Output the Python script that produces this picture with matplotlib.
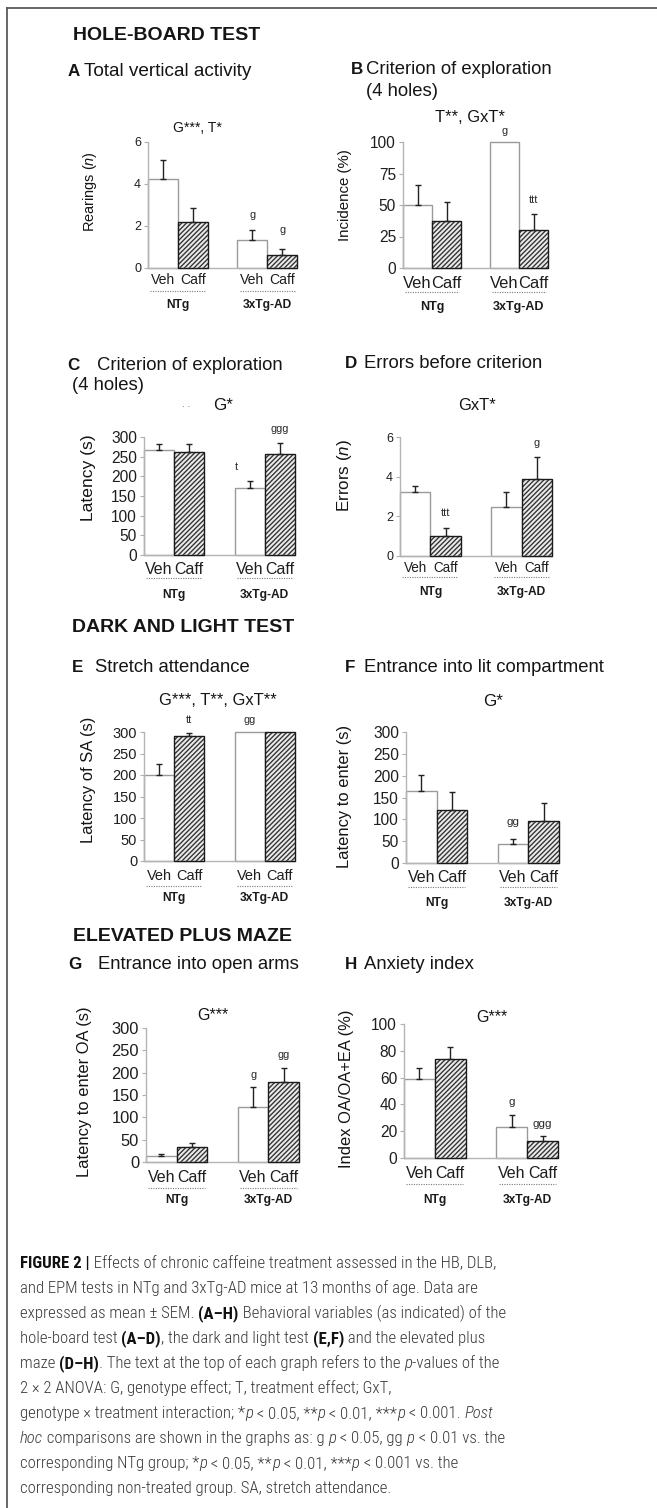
import matplotlib
matplotlib.use("Agg")
import matplotlib.pyplot as plt
from matplotlib.lines import Line2D
from matplotlib.transforms import ScaledTranslation

W, H, DPI = 657, 1508, 100
PT = 72.0 / DPI  # px -> pt

plt.rcParams.update({
    "font.family": ["Liberation Sans", "DejaVu Sans"],
    "mathtext.fontset": "custom",
    "mathtext.rm": "Liberation Sans",
    "mathtext.it": "Liberation Sans:italic",
    "mathtext.bf": "Liberation Sans:bold",
    "hatch.linewidth": 1.0,
})

# ---------------- data ----------------
bar_pos = [0, 1, 3, 4]
treatments = ["Veh", "Caff", "Veh", "Caff"]
genotypes = ["NTg", "3xTg-AD"]
genotype_centers = [0.5, 3.5]

A_mean = [4.25, 2.19, 1.35, 0.63]
A_sem = [0.91, 0.68, 0.48, 0.29]
A_notes = ["g", "g"]
A_note_x = [3, 4]
A_note_y = [2.5, 1.8]

B_mean = [50, 37.5, 100, 30]
B_sem = [16, 15, 0, 13]
B_notes = ["g", "ttt"]
B_note_x = [3, 4]
B_note_y = [109, 54]

C_mean = [266, 262, 171, 256]
C_sem = [15, 19, 17, 29]
C_notes = ["t", "ggg"]
C_note_x = [2.56, 4]
C_note_y = [224, 321]

D_mean = [3.24, 1.01, 2.48, 3.87]
D_sem = [0.29, 0.38, 0.76, 1.10]
D_notes = ["ttt", "g"]
D_note_x = [1, 4]
D_note_y = [2.15, 5.7]

E_mean = [201, 290, 300, 300]
E_sem = [25, 8, 0, 0]
E_notes = ["tt", "gg"]
E_note_x = [1, 3]
E_note_y = [327, 327]

F_mean = [165, 121, 43, 97]
F_sem = [36, 41, 13, 40]
F_notes = ["gg"]
F_note_x = [3]
F_note_y = [93]

G_mean = [14, 34, 124, 178]
G_sem = [5, 9, 43, 33]
G_notes = ["g", "gg"]
G_note_x = [3, 4]
G_note_y = [195, 240]

H_mean = [59, 73.6, 23.4, 12.7]
H_sem = [8, 9, 9, 3.8]
H_notes = ["g", "ggg"]
H_note_x = [3, 4]
H_note_y = [42, 25.7]

# ---------------- figure ----------------
fig = plt.figure(figsize=(W / DPI, H / DPI), dpi=DPI, facecolor="white")


def ftxt(x, y, s, size_px, **kw):
    kw.setdefault("color", "#151515")
    return fig.text(x / W, 1 - y / H, s, fontsize=size_px * PT, **kw)


def px_axes(l, r, t, b):
    return fig.add_axes([l / W, 1 - b / H, (r - l) / W, (b - t) / H])


def draw_panel(box, mean, sem, ymax, yticks, ylabel, ylab_xy, ylab_px,
               ytick_px, xtick_px, tl_d, dot_d, grp_d, grp_px,
               notes, note_x, note_y, note_px, dot_ext=0.42):
    ax = px_axes(*box)
    ax.set_xlim(-0.5, 4.5)
    ax.set_ylim(0, ymax)
    ax.patch.set_alpha(0)
    veh_x = [bar_pos[i] for i in (0, 2)]
    caff_x = [bar_pos[i] for i in (1, 3)]
    veh_m = [mean[i] for i in (0, 2)]
    caff_m = [mean[i] for i in (1, 3)]
    ax.bar(veh_x, veh_m, width=1.0, color="white", edgecolor="#9a9a9a",
           linewidth=1.0, zorder=2, clip_on=False)
    ax.bar(caff_x, caff_m, width=1.0, color="#ececec", edgecolor="#363636",
           hatch="///////", linewidth=0, zorder=2, clip_on=False)
    ax.bar(caff_x, caff_m, width=1.0, fill=False, edgecolor="#1a1a1a",
           linewidth=1.0, zorder=3, clip_on=False)
    ex = [bar_pos[i] for i in range(4) if sem[i] > 0]
    ey = [mean[i] for i in range(4) if sem[i] > 0]
    ee = [sem[i] for i in range(4) if sem[i] > 0]
    ax.errorbar(ex, ey, yerr=[[0] * len(ee), ee], fmt="none", ecolor="#222222",
                elinewidth=1.0, capsize=2.2, capthick=1.0, zorder=4, clip_on=False)
    for s in ("top", "right"):
        ax.spines[s].set_visible(False)
    for s in ("left", "bottom"):
        ax.spines[s].set_color("#b5b5b5")
        ax.spines[s].set_linewidth(1.0)
    ax.set_yticks(yticks)
    ax.set_yticklabels([str(v) for v in yticks])
    ax.tick_params(axis="y", direction="out", length=3, width=0.8, color="#b0b0b0",
                   labelsize=ytick_px * PT, labelcolor="#1e1e1e", pad=2)
    ax.set_xticks([])
    for p, lab in zip(bar_pos, treatments):
        ax.annotate(lab, xy=(p, 0), xycoords=("data", "axes fraction"),
                    xytext=(0, -tl_d * PT), textcoords="offset points",
                    ha="center", va="center", fontsize=xtick_px * PT, color="#1e1e1e")
    for c, g in zip(genotype_centers, genotypes):
        tr = ax.get_xaxis_transform() + ScaledTranslation(0, -dot_d / DPI, fig.dpi_scale_trans)
        ax.plot([c - 0.5 - dot_ext, c + 0.5 + dot_ext], [0, 0], transform=tr,
                ls=(0, (1, 1.2)), color="#7a7a7a", lw=0.8, clip_on=False)
        ax.annotate(g, xy=(c, 0), xycoords=("data", "axes fraction"),
                    xytext=(0, -grp_d * PT), textcoords="offset points",
                    ha="center", va="center", fontsize=grp_px * PT,
                    fontweight="bold", color="#1a1a1a")
    for lab, x, y in zip(notes, note_x, note_y):
        ax.text(x, y, lab, ha="center", va="center", fontsize=note_px * PT,
                color="#2a2a2a", clip_on=False)
    ftxt(ylab_xy[0], ylab_xy[1], ylabel, ylab_px, rotation=90, ha="center", va="center")
    return ax


# frame
fig.add_artist(Line2D([7 / W, 1], [1 - 8 / H, 1 - 8 / H], transform=fig.transFigure,
                      color="#5a5a5a", lw=1.3))
fig.add_artist(Line2D([7 / W, 7 / W], [0, 1 - 8 / H], transform=fig.transFigure,
                      color="#5a5a5a", lw=1.3))

# section headers
ftxt(73, 35, "HOLE-BOARD TEST", 19.5, fontweight="bold", ha="left", va="center")
ftxt(72, 628, "DARK AND LIGHT TEST", 19.5, fontweight="bold", ha="left", va="center")
ftxt(73, 937, "ELEVATED PLUS MAZE", 19.5, fontweight="bold", ha="left", va="center")


# panel titles
def title(letter, lx, tx, y, s, size=18):
    ftxt(lx, y, letter, 17, fontweight="bold", ha="left", va="center")
    ftxt(tx, y, s, size, ha="left", va="center")


title("A", 68, 84, 72, "Total vertical activity", 19)
title("B", 351, 366, 70, "Criterion of exploration", 18.5)
ftxt(366, 92, "(4 holes)", 18.5, ha="left", va="center")
title("C", 67, 97, 365, "Criterion of exploration", 18.5)
ftxt(72, 385, "(4 holes)", 18.5, ha="left", va="center")
title("D", 345, 364, 363, "Errors before criterion", 18.5)
title("E", 72, 95, 667, "Stretch attendance", 18.5)
title("F", 345, 364, 668, "Entrance into lit compartment", 18.5)
title("G", 68, 98, 965, "Entrance into open arms", 18.5)
title("H", 345, 364, 965, "Anxiety index", 18.5)

# ANOVA headers
ftxt(197, 128, "G***, T*", 14, ha="center", va="center")
ftxt(470, 118, "T**, GxT*", 16.5, ha="center", va="center")
ftxt(186, 404, ". .", 10, ha="center", va="center", color="#666666")
ftxt(223, 405, "G*", 17, ha="center", va="center")
ftxt(477, 405, "GxT*", 16.5, ha="center", va="center")
ftxt(218, 700, "G***, T**, GxT**", 16.5, ha="center", va="center")
ftxt(493, 702, "G*", 17, ha="center", va="center")
ftxt(213, 1015, "G***", 16, ha="center", va="center")
ftxt(492, 1017, "G***", 16, ha="center", va="center")

# panels
draw_panel((148, 297, 142, 268), A_mean, A_sem, 6, [0, 2, 4, 6],
           r"Rearings ($\mathit{n}$)", (90, 192), 14.5, 12.5, 14, 12, 23, 37, 12,
           A_notes, A_note_x, A_note_y, 11)
draw_panel((403, 548, 142, 268), B_mean, B_sem, 100, [0, 25, 50, 75, 100],
           "Incidence (%)", (345, 195), 15, 15.5, 16.5, 15, 24, 39, 12.5,
           B_notes, B_note_x, B_note_y, 11)
draw_panel((144, 295, 437, 555), C_mean, C_sem, 300, [0, 50, 100, 150, 200, 250, 300],
           "Latency (s)", (88, 478), 17.5, 15.5, 16, 15, 23, 40, 12,
           C_notes, C_note_x, C_note_y, 11)
draw_panel((400, 552, 437, 556), D_mean, D_sem, 6, [0, 2, 4, 6],
           r"Errors ($\mathit{n}$)", (345, 476), 17, 12.5, 13.5, 12, 21, 36, 12,
           D_notes, D_note_x, D_note_y, 11)
draw_panel((144, 295, 732, 861), E_mean, E_sem, 300, [0, 50, 100, 150, 200, 250, 300],
           "Latency of SA (s)", (88, 780), 16.5, 14.5, 14.5, 15, 25, 37, 12,
           E_notes, E_note_x, E_note_y, 11)
draw_panel((406, 559, 732, 863), F_mean, F_sem, 300, [0, 50, 100, 150, 200, 250, 300],
           "Latency to enter (s)", (345, 796), 16.5, 15.5, 16, 15, 24, 40, 12,
           F_notes, F_note_x, F_note_y, 11.5)
draw_panel((146, 299, 1028, 1162), G_mean, G_sem, 300, [0, 50, 100, 150, 200, 250, 300],
           "Latency to enter OA (s)", (85, 1092), 16.5, 16.5, 16, 15, 26, 38, 12,
           G_notes, G_note_x, G_note_y, 11)
draw_panel((404, 558, 1024, 1158), H_mean, H_sem, 100, [0, 20, 40, 60, 80, 100],
           "Index OA/OA+EA (%)", (347, 1089), 16.5, 15.5, 16, 15, 26, 42, 12,
           H_notes, H_note_x, H_note_y, 11.5)

# ---------------- caption ----------------
caption = [
    [("FIGURE 2 |", "b"), (" Effects of chronic caffeine treatment assessed in the HB, DLB,", "r")],
    [("and EPM tests in NTg and 3xTg-AD mice at 13 months of age. Data are", "r")],
    [("expressed as mean \u00b1 SEM. ", "r"), ("(A\u2013H)", "b"),
     (" Behavioral variables (as indicated) of the", "r")],
    [("hole-board test ", "r"), ("(A\u2013D)", "b"), (", the dark and light test ", "r"),
     ("(E,F)", "b"), (" and the elevated plus", "r")],
    [("maze ", "r"), ("(D\u2013H)", "b"), (". The text at the top of each graph refers to the ", "r"),
     ("p", "i"), ("-values of the", "r")],
    [("2 \u00d7 2 ANOVA: G, genotype effect; T, treatment effect; GxT,", "r")],
    [("genotype \u00d7 treatment interaction; *", "r"), ("p", "i"), (" < 0.05, **", "r"),
     ("p", "i"), (" < 0.01, ***", "r"), ("p", "i"), (" < 0.001. ", "r"), ("Post", "i")],
    [("hoc", "i"), (" comparisons are shown in the graphs as: g ", "r"), ("p", "i"),
     (" < 0.05, gg ", "r"), ("p", "i"), (" < 0.01 vs. the", "r")],
    [("corresponding NTg group; *", "r"), ("p", "i"), (" < 0.05, **", "r"), ("p", "i"),
     (" < 0.01, ***", "r"), ("p", "i"), (" < 0.001 vs. the", "r")],
    [("corresponding non-treated group. SA, stretch attendance.", "r")],
]

CAP_FAMILY = ["Roboto Condensed", "Liberation Sans Narrow", "Archivo Narrow",
              "Fira Sans Condensed", "Liberation Sans", "DejaVu Sans"]
renderer = fig.canvas.get_renderer()


def seg_kw(style, size_pt):
    kw = dict(fontsize=size_pt, family=CAP_FAMILY, color="#3a3a3a", fontweight="light")
    if style == "b":
        kw["fontweight"] = "bold"
        kw["color"] = "#111111"
    elif style == "i":
        kw["fontstyle"] = "italic"
    return kw


def adv(s, kw):
    t1 = fig.text(0, 0, "X" + s + "X", **kw)
    w1 = t1.get_window_extent(renderer).width
    t1.remove()
    t2 = fig.text(0, 0, "XX", **kw)
    w2 = t2.get_window_extent(renderer).width
    t2.remove()
    return w1 - w2


base = 12.0
w_line1 = sum(adv(s, seg_kw(st, base)) for s, st in caption[0])
cap_size = base * 475.0 / w_line1

for i, line in enumerate(caption):
    x = 20.0
    y = 1268 + 25 * i
    for s, st in line:
        kw = seg_kw(st, cap_size)
        fig.text(x / W, 1 - y / H, s, ha="left", va="baseline", **kw)
        x += adv(s, kw)

fig.savefig("out.png", dpi=DPI, facecolor="white")
